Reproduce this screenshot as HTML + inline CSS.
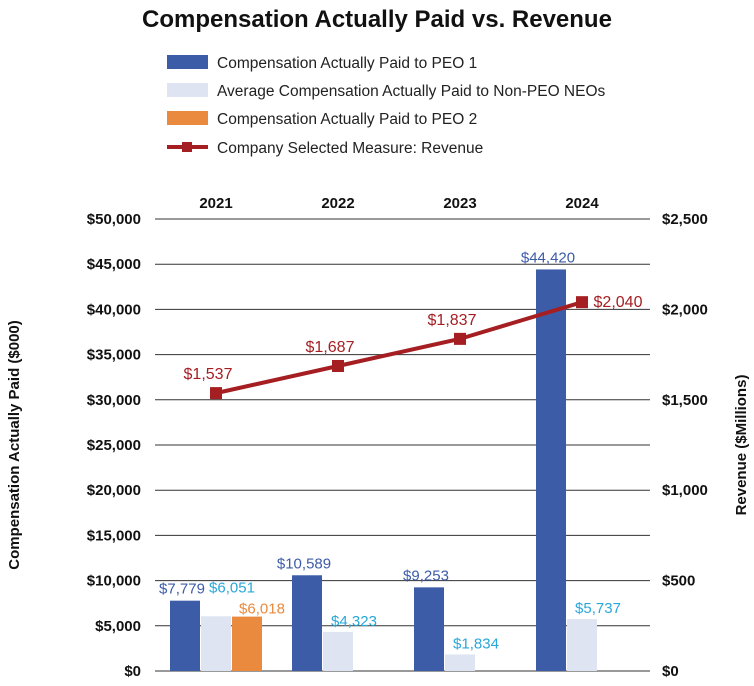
<!DOCTYPE html>
<html><head><meta charset="utf-8"><style>
body{margin:0;background:#fff;}
svg{display:block;font-family:"Liberation Sans",sans-serif;}
</style></head><body>
<svg id="c" width="754" height="686">
<text x="377" y="27" text-anchor="middle" font-size="24" font-weight="bold" fill="#111">Compensation Actually Paid vs. Revenue</text>
<g>
<rect x="167" y="55" width="41" height="14" fill="#3d5ca8"/>
<text x="217" y="68" font-size="15.5" fill="#222">Compensation Actually Paid to PEO 1</text>
<rect x="167" y="83" width="41" height="14" fill="#dfe4f3"/>
<text x="217" y="96" font-size="15.5" fill="#222">Average Compensation Actually Paid to Non-PEO NEOs</text>
<rect x="167" y="111" width="41" height="14" fill="#ea8a3e"/>
<text x="217" y="124" font-size="15.5" fill="#222">Compensation Actually Paid to PEO 2</text>
<line x1="167" y1="147" x2="208" y2="147" stroke="#a51e22" stroke-width="4"/>
<rect x="182" y="142" width="10" height="10" fill="#a51e22"/>
<text x="217" y="153" font-size="15.5" fill="#222">Company Selected Measure: Revenue</text>
</g>
<text transform="translate(19,445) rotate(-90)" text-anchor="middle" font-size="15" font-weight="bold" fill="#111">Compensation Actually Paid ($000)</text>
<text transform="translate(746,445) rotate(-90)" text-anchor="middle" font-size="15" font-weight="bold" fill="#111">Revenue ($Millions)</text>
<g id="grid"></g><g id="bars"></g><g id="line"></g><g id="labels"></g>
</svg>
<script>
const years=["2021","2022","2023","2024"];
const peo1=[7779,10589,9253,44420];
const neo=[6051,4323,1834,5737];
const peo2=[6018,null,null,null];
const revenue=[1537,1687,1837,2040];
const leftTicks=[0,5000,10000,15000,20000,25000,30000,35000,40000,45000,50000];
const rightTicks=[0,500,1000,1500,2000,2500];
const NS="http://www.w3.org/2000/svg";
const X0=155,X1=650,Y0=671,Y1=219;
const yL=v=>Y0-(v/50000)*(Y0-Y1);
const yR=v=>Y0-(v/2500)*(Y0-Y1);
const xc=i=>216+i*122;
const BW=31;
function mk(tag,attrs,parent,txt){const e=document.createElementNS(NS,tag);for(const k in attrs)e.setAttribute(k,attrs[k]);if(txt!=null)e.textContent=txt;document.getElementById(parent).appendChild(e);return e;}
const fmt=v=>"$"+v.toLocaleString("en-US");
leftTicks.forEach(t=>{
  const g=mk("line",{x1:X0,x2:X1,y1:yL(t),y2:yL(t),stroke:"#333","stroke-width":1},"grid");
  
  
  const l=mk("text",{x:141,y:yL(t)+5,"text-anchor":"end","font-size":15,"font-weight":"bold",fill:"#111"},"grid",fmt(t));
  
  
});
rightTicks.forEach(t=>{
  const l=mk("text",{x:662,y:yR(t)+5,"font-size":15,"font-weight":"bold",fill:"#111"},"grid",fmt(t));
  
  
});
years.forEach((y,i)=>{
  const l=mk("text",{x:xc(i),y:208,"text-anchor":"middle","font-size":15,"font-weight":"bold",fill:"#111"},"grid",y);
  
  
  const x0=xc(i)-46;
  const b1=mk("rect",{x:x0,y:yL(peo1[i]),width:BW-1,height:Y0-yL(peo1[i]),fill:"#3d5ca8"},"bars");
  
  
  const t1=mk("text",{x:x0+12,y:yL(peo1[i])-7,"text-anchor":"middle","font-size":15,fill:"#3d5ca8"},"labels",fmt(peo1[i]));
  
  
  const b2=mk("rect",{x:x0+BW,y:yL(neo[i]),width:BW-1,height:Y0-yL(neo[i]),fill:"#dfe4f3"},"bars");
  
  
  const raise=peo2[i]!=null?18:0;
  const t2=mk("text",{x:x0+BW+31,y:yL(neo[i])-6-raise,"text-anchor":"middle","font-size":15,fill:"#2aa7d9"},"labels",fmt(neo[i]));
  
  
  if(peo2[i]!=null){
    const b3=mk("rect",{x:x0+2*BW,y:yL(peo2[i]),width:BW-1,height:Y0-yL(peo2[i]),fill:"#ea8a3e"},"bars");
    
    
    const t3=mk("text",{x:x0+2*BW+30,y:yL(peo2[i])-3,"text-anchor":"middle","font-size":15,fill:"#ea8a3e"},"labels",fmt(peo2[i]));
    
    
  }
});
const pts=revenue.map((v,i)=>xc(i)+","+yR(v)).join(" ");
const pl=mk("polyline",{points:pts,fill:"none",stroke:"#a51e22","stroke-width":4},"line");


revenue.forEach((v,i)=>{
  const m=mk("rect",{x:xc(i)-6,y:yR(v)-6,width:12,height:12,fill:"#a51e22"},"line");
  
  
  const last=i===revenue.length-1;
  const t=mk("text",{x:last?xc(i)+36:xc(i)-8,y:last?yR(v)+5:yR(v)-14,"text-anchor":"middle","font-size":16,fill:"#a51e22"},"labels",fmt(v));
  
  
});
</script>
</body></html>
